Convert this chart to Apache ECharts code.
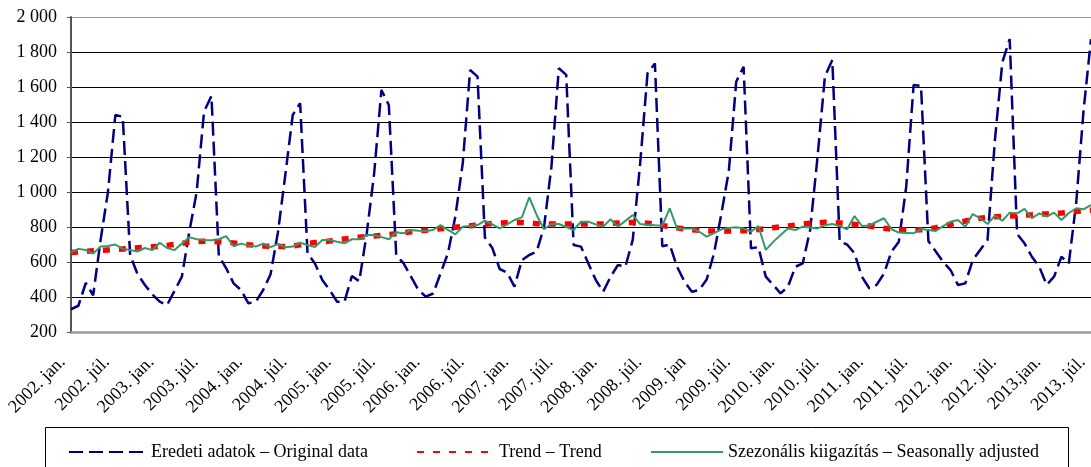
<!DOCTYPE html>
<html><head><meta charset="utf-8">
<script src="https://cdn.jsdelivr.net/npm/echarts@6/dist/echarts.min.js"></script>
<style>html,body{margin:0;padding:0;background:#fff}#c{width:1091px;height:467px}</style>
</head><body><div id="c"></div>
<script>
// ---- data ----
const years = [2002,2003,2004,2005,2006,2007,2008,2009,2010,2011,2012,2013];
const monthNames = ['jan.','febr.','márc.','ápr.','máj.','jún.','júl.','aug.','szept.','okt.','nov.','dec.'];
const tickLabels = ['2002. jan.','2002. júl.','2003. jan.','2003. júl.','2004. jan.','2004. júl.',
  '2005. jan.','2005. júl.','2006. jan.','2006. júl.','2007. jan.','2007. júl.','2008. jan.','2008. júl.',
  '2009. jan','2009. júl.','2010. jan.','2010. júl.','2011. jan.','2011. júl.','2012. jan.','2012. júl.',
  '2013.jan.','2013. júl.'];
const yTicks = [200,400,600,800,1000,1200,1400,1600,1800,2000];

const original = [
  330,350,480,410,725,1000,1440,1430,640,530,469,415,
  373,354,435,516,770,1000,1459,1549,635,564,478,440,
  364,373,440,530,770,1100,1440,1507,650,592,497,440,
  373,373,520,490,760,1100,1583,1497,640,592,516,440,
  402,420,535,650,860,1164,1697,1659,740,680,560,540,
  459,611,640,659,800,1145,1707,1669,697,688,592,497,
  430,516,583,573,726,1160,1678,1735,690,700,573,488,
  430,440,500,650,878,1120,1630,1716,678,685,516,469,
  421,459,573,592,783,1200,1660,1754,716,700,650,516,
  450,469,535,659,716,1030,1611,1606,720,660,600,554,
  469,478,611,669,726,1297,1740,1874,760,707,630,573,
  469,516,630,592,940,1469,1874
];
const trend = [
  654,658,661,664,667,669,671,674,677,681,684,687,
  689,695,701,707,713,716,718,718,716,713,709,704,
  699,695,692,690,688,689,691,698,706,711,715,720,
  726,732,737,742,745,748,752,757,762,768,773,778,
  782,786,790,794,799,803,807,811,816,820,823,825,
  826,826,823,819,817,817,817,817,817,817,817,817,
  818,820,823,825,826,826,822,815,808,802,795,789,
  785,781,778,777,776,777,778,779,782,786,790,796,
  801,806,811,816,821,824,827,826,823,819,815,811,
  806,799,793,788,785,783,783,784,787,796,806,816,
  826,834,843,850,855,858,860,862,865,868,870,873,
  875,877,880,884,889,893,897
];
const adjusted = [
  655,675,668,648,688,692,700,675,668,660,680,668,
  710,680,668,705,742,730,725,724,730,748,690,705,
  695,688,705,685,703,684,688,710,697,685,726,726,
  716,707,730,730,754,754,742,730,770,764,783,779,
  777,783,811,783,758,802,806,811,836,815,792,815,
  840,855,970,869,787,817,817,800,783,830,830,815,
  802,844,802,835,869,817,813,810,808,907,790,791,
  792,773,745,765,787,795,798,792,773,806,669,715,
  754,792,783,802,797,792,810,817,805,787,863,806,
  809,830,850,787,768,766,764,788,783,777,805,830,
  840,802,874,850,817,865,836,882,878,903,850,878,
  859,882,840,880,907,901,926
];
const seriesNames = ['Eredeti adatok – Original data','Trend – Trend','Szezonális kiigazítás – Seasonally adjusted'];

const categories = [];
years.forEach(y => monthNames.forEach(m => { if (categories.length < original.length) categories.push(y + '. ' + m); }));

const FONT = 'Liberation Serif';
const legendBase = {
  top: 438, itemHeight: 12, padding: 5,
  itemStyle: {opacity: 0},
  textStyle: {fontFamily: FONT, fontSize: 18, color: '#000'}
};
const chart = echarts.init(document.getElementById('c'), null, {renderer:'canvas'});
chart.setOption({
  animation: false,
  backgroundColor: '#fff',
  grid: {left: 71, right: -2, top: 17, bottom: 135, show: false},
  xAxis: {
    type: 'category', data: categories, boundaryGap: false,
    axisLine: {show: true, lineStyle: {color: '#9a9a9a', width: 2.5}},
    axisTick: {show: false},
    splitLine: {show: false},
    axisLabel: {
      interval: 5, rotate: 45, margin: 19, padding: [0, 12, 0, 0],
      fontFamily: FONT, fontSize: 18, color: '#000',
      formatter: (v, i) => tickLabels[Math.round(i / 6)] || ''
    }
  },
  yAxis: {
    type: 'value', min: 200, max: 2000, interval: 200,
    axisLine: {show: true, lineStyle: {color: '#555', width: 2}},
    axisTick: {show: true, length: 4, lineStyle: {color: '#555', width: 1}},
    splitLine: {show: true, lineStyle: {width: 1,
      color: ['#9a9a9a','#000','#000','#000','#000','#000','#000','#000','#000','#9a9a9a']}},
    axisLabel: {
      margin: 14, fontFamily: FONT, fontSize: 18, color: '#000',
      formatter: v => v >= 1000 ? Math.floor(v / 1000) + ' ' + String(v % 1000).padStart(3, '0') : String(v)
    }
  },
  legend: [
    Object.assign({}, legendBase, {left: 63, itemWidth: 77, data: [seriesNames[0]]}),
    Object.assign({}, legendBase, {left: 411, itemWidth: 77, data: [seriesNames[1]]}),
    Object.assign({}, legendBase, {left: 645, itemWidth: 72, data: [seriesNames[2]]})
  ],
  graphic: [{
    type: 'rect', silent: true,
    shape: {x: 45.5, y: 427.5, width: 1023, height: 60},
    style: {fill: 'none', stroke: '#000', lineWidth: 1}
  }],
  series: [
    {name: seriesNames[0], type: 'line', data: original, symbol: 'none', z: 2,
     lineStyle: {color: '#000080', width: 2.5, type: [14, 6]}, itemStyle: {color: '#000080'}},
    {name: seriesNames[1], type: 'line', data: trend, symbol: 'none', z: 3,
     lineStyle: {color: '#ff0000', width: 5.5, type: [7, 9]}, itemStyle: {color: '#ff0000'}},
    {name: seriesNames[2], type: 'line', data: adjusted, symbol: 'none', z: 4,
     lineStyle: {color: '#339966', width: 2}, itemStyle: {color: '#339966'}}
  ]
});
</script></body></html>
